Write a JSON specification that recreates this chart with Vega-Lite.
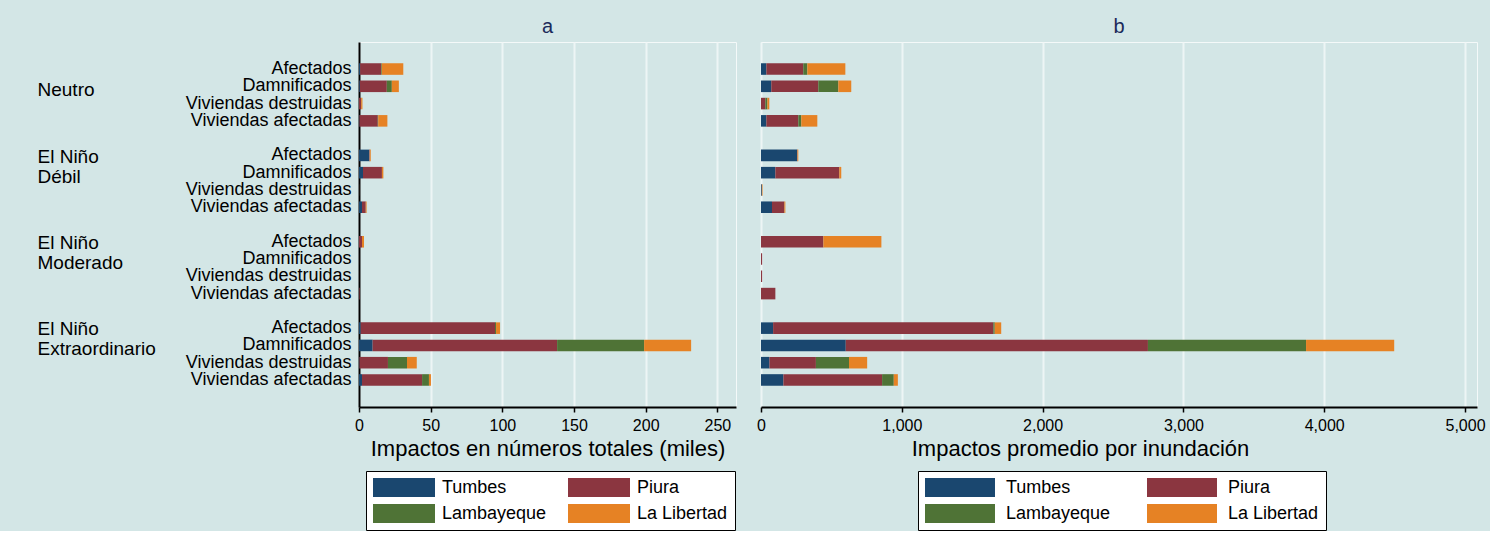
{
  "$schema": "https://vega.github.io/schema/vega-lite/v6.json",
  "padding": {"left": 36, "top": 16, "right": 4, "bottom": 0},
  "background": "#d3e6e6",
  "datasets": {
    "impactos": [
      {"fila": "Neutro|Afectados", "depto": "Tumbes", "total": 0.8, "promedio": 38},
      {"fila": "Neutro|Afectados", "depto": "Piura", "total": 14.6, "promedio": 262},
      {"fila": "Neutro|Afectados", "depto": "Lambayeque", "total": 0.5, "promedio": 29},
      {"fila": "Neutro|Afectados", "depto": "La Libertad", "total": 15.0, "promedio": 270},
      {"fila": "Neutro|Damnificados", "depto": "Tumbes", "total": 0.6, "promedio": 73},
      {"fila": "Neutro|Damnificados", "depto": "Piura", "total": 18.8, "promedio": 334},
      {"fila": "Neutro|Damnificados", "depto": "Lambayeque", "total": 3.5, "promedio": 142},
      {"fila": "Neutro|Damnificados", "depto": "La Libertad", "total": 4.9, "promedio": 92},
      {"fila": "Neutro|Viviendas destruidas", "depto": "Piura", "total": 1.4, "promedio": 31},
      {"fila": "Neutro|Viviendas destruidas", "depto": "Lambayeque", "total": 0.1, "promedio": 14},
      {"fila": "Neutro|Viviendas destruidas", "depto": "La Libertad", "total": 0.9, "promedio": 14},
      {"fila": "Neutro|Viviendas afectadas", "depto": "Tumbes", "total": 0.3, "promedio": 38},
      {"fila": "Neutro|Viviendas afectadas", "depto": "Piura", "total": 12.8, "promedio": 227},
      {"fila": "Neutro|Viviendas afectadas", "depto": "Lambayeque", "total": 0.3, "promedio": 21},
      {"fila": "Neutro|Viviendas afectadas", "depto": "La Libertad", "total": 6.4, "promedio": 114},
      {"fila": "El Niño Débil|Afectados", "depto": "Tumbes", "total": 7.2, "promedio": 256},
      {"fila": "El Niño Débil|Afectados", "depto": "Piura", "total": 0.3, "promedio": 3},
      {"fila": "El Niño Débil|Afectados", "depto": "La Libertad", "total": 0.7, "promedio": 6},
      {"fila": "El Niño Débil|Damnificados", "depto": "Tumbes", "total": 2.8, "promedio": 102},
      {"fila": "El Niño Débil|Damnificados", "depto": "Piura", "total": 13.2, "promedio": 454},
      {"fila": "El Niño Débil|Damnificados", "depto": "La Libertad", "total": 1.0, "promedio": 14},
      {"fila": "El Niño Débil|Viviendas destruidas", "depto": "Tumbes", "total": 0.05, "promedio": 6},
      {"fila": "El Niño Débil|Viviendas destruidas", "depto": "La Libertad", "total": 0.05, "promedio": 5},
      {"fila": "El Niño Débil|Viviendas afectadas", "depto": "Tumbes", "total": 2.1, "promedio": 78},
      {"fila": "El Niño Débil|Viviendas afectadas", "depto": "Piura", "total": 2.6, "promedio": 88},
      {"fila": "El Niño Débil|Viviendas afectadas", "depto": "La Libertad", "total": 0.6, "promedio": 7},
      {"fila": "El Niño Moderado|Afectados", "depto": "Piura", "total": 2.1, "promedio": 443},
      {"fila": "El Niño Moderado|Afectados", "depto": "La Libertad", "total": 1.4, "promedio": 412},
      {"fila": "El Niño Moderado|Damnificados", "depto": "Piura", "total": 0.04, "promedio": 8},
      {"fila": "El Niño Moderado|Viviendas destruidas", "depto": "Piura", "total": 0.04, "promedio": 8},
      {"fila": "El Niño Moderado|Viviendas afectadas", "depto": "Piura", "total": 0.4, "promedio": 102},
      {"fila": "El Niño Extraordinario|Afectados", "depto": "Tumbes", "total": 1.2, "promedio": 86},
      {"fila": "El Niño Extraordinario|Afectados", "depto": "Piura", "total": 93.7, "promedio": 1564},
      {"fila": "El Niño Extraordinario|Afectados", "depto": "Lambayeque", "total": 0.7, "promedio": 10},
      {"fila": "El Niño Extraordinario|Afectados", "depto": "La Libertad", "total": 2.8, "promedio": 46},
      {"fila": "El Niño Extraordinario|Damnificados", "depto": "Tumbes", "total": 9.5, "promedio": 602},
      {"fila": "El Niño Extraordinario|Damnificados", "depto": "Piura", "total": 128.7, "promedio": 2146},
      {"fila": "El Niño Extraordinario|Damnificados", "depto": "Lambayeque", "total": 60.7, "promedio": 1123},
      {"fila": "El Niño Extraordinario|Damnificados", "depto": "La Libertad", "total": 32.8, "promedio": 626},
      {"fila": "El Niño Extraordinario|Viviendas destruidas", "depto": "Tumbes", "total": 0.3, "promedio": 60},
      {"fila": "El Niño Extraordinario|Viviendas destruidas", "depto": "Piura", "total": 19.9, "promedio": 330},
      {"fila": "El Niño Extraordinario|Viviendas destruidas", "depto": "Lambayeque", "total": 13.3, "promedio": 235},
      {"fila": "El Niño Extraordinario|Viviendas destruidas", "depto": "La Libertad", "total": 6.8, "promedio": 129},
      {"fila": "El Niño Extraordinario|Viviendas afectadas", "depto": "Tumbes", "total": 2.1, "promedio": 159},
      {"fila": "El Niño Extraordinario|Viviendas afectadas", "depto": "Piura", "total": 41.9, "promedio": 701},
      {"fila": "El Niño Extraordinario|Viviendas afectadas", "depto": "Lambayeque", "total": 4.8, "promedio": 83},
      {"fila": "El Niño Extraordinario|Viviendas afectadas", "depto": "La Libertad", "total": 1.4, "promedio": 29}
    ]
  },
  "data": {"name": "impactos"},
  "hconcat": [
    {
      "width": 377,
      "height": 365,
      "title": {"text": "a", "fontSize": 20, "fontWeight": "normal", "color": "#1b2a5a", "frame": "group", "anchor": "middle", "baseline": "alphabetic", "offset": -11},
      "layer": [
        {
          "mark": {"type": "bar"},
          "encoding": {
            "y": {
              "field": "fila", "type": "nominal",
              "scale": {"domain": ["t0", "Neutro|Afectados", "Neutro|Damnificados", "Neutro|Viviendas destruidas", "Neutro|Viviendas afectadas", "s1", "El Niño Débil|Afectados", "El Niño Débil|Damnificados", "El Niño Débil|Viviendas destruidas", "El Niño Débil|Viviendas afectadas", "s2", "El Niño Moderado|Afectados", "El Niño Moderado|Damnificados", "El Niño Moderado|Viviendas destruidas", "El Niño Moderado|Viviendas afectadas", "s3", "El Niño Extraordinario|Afectados", "El Niño Extraordinario|Damnificados", "El Niño Extraordinario|Viviendas destruidas", "El Niño Extraordinario|Viviendas afectadas", "t9"], "paddingInner": 0.33, "paddingOuter": 0.23},
              "axis": {"title": null, "values": ["Neutro|Afectados", "Neutro|Damnificados", "Neutro|Viviendas destruidas", "Neutro|Viviendas afectadas", "El Niño Débil|Afectados", "El Niño Débil|Damnificados", "El Niño Débil|Viviendas destruidas", "El Niño Débil|Viviendas afectadas", "El Niño Moderado|Afectados", "El Niño Moderado|Damnificados", "El Niño Moderado|Viviendas destruidas", "El Niño Moderado|Viviendas afectadas", "El Niño Extraordinario|Afectados", "El Niño Extraordinario|Damnificados", "El Niño Extraordinario|Viviendas destruidas", "El Niño Extraordinario|Viviendas afectadas"], "ticks": false, "tickSize": 0, "domain": true, "domainColor": "black", "domainWidth": 2, "grid": false, "labelPadding": 8, "labelFontSize": 18, "labelColor": "black", "labelLimit": 0, "labelOverlap": false, "labelExpr": "split(datum.value, '|')[1]"}
            },
            "x": {
              "field": "total", "type": "quantitative", "stack": "zero",
              "scale": {"domain": [0, 263], "nice": false},
              "axis": {"values": [0, 50, 100, 150, 200, 250], "format": "d", "labelFontSize": 16, "labelColor": "black", "labelPadding": 5, "tickSize": 5, "tickColor": "black", "tickWidth": 1.5, "domainColor": "black", "domainWidth": 2, "grid": true, "gridColor": "#edf5f5", "gridWidth": 2, "title": "Impactos en números totales (miles)", "titleFontSize": 22, "titleFontWeight": "normal", "titleColor": "black", "titlePadding": 5, "labelFlush": false}
            },
            "color": {
              "field": "depto", "type": "nominal",
              "scale": {"domain": ["Tumbes", "Piura", "Lambayeque", "La Libertad"], "range": ["#1a476f", "#8b3640", "#4f7336", "#e68224"]},
              "legend": {"orient": "none", "legendX": 7, "legendY": 429, "columns": 2, "direction": "horizontal", "title": null, "symbolType": "M-1,-1L5.526,-1L5.526,1L-1,1Z", "symbolSize": 361, "symbolStrokeWidth": 0, "labelFontSize": 18, "labelColor": "black", "labelOffset": 50, "columnPadding": 21, "rowPadding": 7, "padding": 7, "fillColor": "white", "strokeColor": "black", "labelLimit": 0}
            },
            "order": {"field": "depto", "sort": "descending"}
          }
        },
        {
          "mark": {"type": "text", "opacity": 0},
          "encoding": {
            "text": {"value": ""},
            "y": {
              "field": "fila", "type": "nominal",
              "scale": {"domain": ["t0", "Neutro|Afectados", "Neutro|Damnificados", "Neutro|Viviendas destruidas", "Neutro|Viviendas afectadas", "s1", "El Niño Débil|Afectados", "El Niño Débil|Damnificados", "El Niño Débil|Viviendas destruidas", "El Niño Débil|Viviendas afectadas", "s2", "El Niño Moderado|Afectados", "El Niño Moderado|Damnificados", "El Niño Moderado|Viviendas destruidas", "El Niño Moderado|Viviendas afectadas", "s3", "El Niño Extraordinario|Afectados", "El Niño Extraordinario|Damnificados", "El Niño Extraordinario|Viviendas destruidas", "El Niño Extraordinario|Viviendas afectadas", "t9"], "paddingInner": 0.33, "paddingOuter": 0.23},
              "axis": {"orient": "left", "title": null, "values": ["Neutro|Damnificados", "El Niño Débil|Damnificados", "El Niño Moderado|Damnificados", "El Niño Extraordinario|Damnificados"], "ticks": false, "tickSize": 0, "domain": false, "grid": false, "labelAlign": "left", "labelBaseline": "middle", "labelPadding": 322, "labelFontSize": 19, "labelLineHeight": 20, "labelColor": "black", "labelLimit": 0, "labelOverlap": false, "labelOffset": -16, "labelExpr": "indexof(datum.value, 'El Niño') == 0 ? ['El Niño', replace(split(datum.value, '|')[0], 'El Niño ', '')] : ['', split(datum.value, '|')[0]]"}
            }
          }
        }
      ],
      "resolve": {"axis": {"y": "independent"}}
    },
    {
      "width": 716,
      "height": 365,
      "title": {"text": "b", "fontSize": 20, "fontWeight": "normal", "color": "#1b2a5a", "frame": "group", "anchor": "middle", "baseline": "alphabetic", "offset": -11},
      "mark": {"type": "bar"},
      "encoding": {
        "y": {
          "field": "fila", "type": "nominal",
          "scale": {"domain": ["t0", "Neutro|Afectados", "Neutro|Damnificados", "Neutro|Viviendas destruidas", "Neutro|Viviendas afectadas", "s1", "El Niño Débil|Afectados", "El Niño Débil|Damnificados", "El Niño Débil|Viviendas destruidas", "El Niño Débil|Viviendas afectadas", "s2", "El Niño Moderado|Afectados", "El Niño Moderado|Damnificados", "El Niño Moderado|Viviendas destruidas", "El Niño Moderado|Viviendas afectadas", "s3", "El Niño Extraordinario|Afectados", "El Niño Extraordinario|Damnificados", "El Niño Extraordinario|Viviendas destruidas", "El Niño Extraordinario|Viviendas afectadas", "t9"], "paddingInner": 0.33, "paddingOuter": 0.23},
          "axis": null
        },
        "x": {
          "field": "promedio", "type": "quantitative", "stack": "zero",
          "scale": {"domain": [0, 5085], "nice": false},
          "axis": {"values": [0, 1000, 2000, 3000, 4000, 5000], "format": ",d", "labelFontSize": 16, "labelColor": "black", "labelPadding": 5, "tickSize": 5, "tickColor": "black", "tickWidth": 1.5, "domainColor": "black", "domainWidth": 2, "grid": true, "gridColor": "#edf5f5", "gridWidth": 2, "title": "Impactos promedio por inundación", "titleFontSize": 22, "titleFontWeight": "normal", "titleColor": "black", "titlePadding": 5, "titleX": 319, "labelFlush": false}
        },
        "color": {
          "field": "depto", "type": "nominal",
          "scale": {"domain": ["Tumbes", "Piura", "Lambayeque", "La Libertad"], "range": ["#1a476f", "#8b3640", "#4f7336", "#e68224"]},
          "legend": {"orient": "none", "legendX": 157, "legendY": 429, "columns": 2, "direction": "horizontal", "title": null, "symbolType": "M-1,-1L6.368,-1L6.368,1L-1,1Z", "symbolSize": 361, "symbolStrokeWidth": 0, "labelFontSize": 18, "labelColor": "black", "labelOffset": 62, "columnPadding": 36, "rowPadding": 7, "padding": 7, "fillColor": "white", "strokeColor": "black", "labelLimit": 0}
        },
        "order": {"field": "depto", "sort": "descending"}
      }
    }
  ],
  "spacing": 19,
  "resolve": {"scale": {"color": "independent"}, "legend": {"color": "independent"}},
  "config": {
    "font": "Liberation Sans",
    "view": {"stroke": "#f4f9f9", "strokeWidth": 1}
  }
}
